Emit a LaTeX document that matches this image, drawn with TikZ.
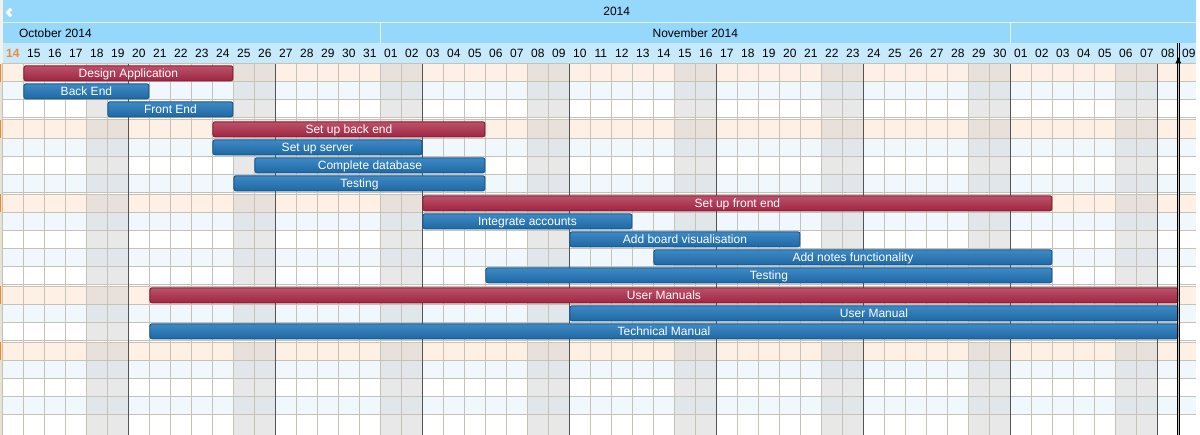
\documentclass[tikz,border=0pt]{standalone}
\usepackage{fontspec}
\setmainfont{Liberation Sans}
% header and grid colours
\definecolor{hdrTop}{RGB}{150,216,252}
\definecolor{hdrDay}{RGB}{198,234,252}
\definecolor{hdrRule}{RGB}{226,242,250}
\definecolor{hdrSide}{RGB}{242,242,236}
\definecolor{rowo}{RGB}{255,240,229}
\definecolor{rowb}{RGB}{240,248,254}
\definecolor{roww}{RGB}{255,255,255}
\definecolor{wkndo}{RGB}{232,224,218}
\definecolor{wkndb}{RGB}{224,230,233}
\definecolor{wkndw}{RGB}{232,232,232}
\definecolor{gridc}{RGB}{198,194,184}
\definecolor{weekc}{RGB}{84,84,84}
\definecolor{todayc}{RGB}{240,136,60}
\definecolor{edgec}{RGB}{230,226,214}
\definecolor{markc}{RGB}{242,136,30}
% task bar colours
\definecolor{redT}{RGB}{186,82,106}
\definecolor{redB}{RGB}{160,38,66}
\definecolor{redE}{RGB}{140,30,56}
\definecolor{bluT}{RGB}{62,138,196}
\definecolor{bluB}{RGB}{30,104,164}
\definecolor{bluE}{RGB}{24,90,146}

% one task bar: name, first day column, last day column, row top, kind (r/b), label
\newcommand\ganttbar[6]{%
  \pgfmathsetmacro\gx{2.33+21*#2+0.6}%
  \pgfmathsetmacro\gw{(21*(#3-#2+1)-1)*0.75}%
  \node[bar#5, minimum width=\gw pt, anchor=west] (#1) at (\gx,#4+9.3) {#6};%
}

\begin{document}
\begin{tikzpicture}[x=0.75pt,y=-0.75pt,line width=0.75pt,
  font=\fontsize{9}{10}\selectfont,
  lbl/.style={inner sep=0pt,outer sep=0pt,text height=6.44pt,text depth=0pt},
  barbase/.style={lbl,draw,rounded corners=1.6pt,minimum height=11.25pt,
    text=white,line width=0.75pt,text height=6.0pt},
  barr/.style={barbase,draw=redE,top color=redT,bottom color=redB},
  barb/.style={barbase,draw=bluE,top color=bluT,bottom color=bluB}]
\useasboundingbox (0,0) rectangle (1200,435);
\fill[white] (0,0) rectangle (1200,435);

% ---- header ----
\fill[hdrSide] (0,0) rectangle (3,64);
\fill[hdrTop] (3,0) rectangle (1196,43);
\draw[hdrRule] (3,22.5) -- (1196,22.5);
\fill[hdrDay] (3,43) rectangle (1196,64);
\draw[hdrRule] (380.33,23) -- (380.33,43) (1010.33,23) -- (1010.33,43);
\draw[white,line width=2.2pt,line join=miter] (11.2,8.8) -- (7.6,12.5) -- (11.2,16.2);
\node[lbl] (year) at (616.7,11.6) {2014};
\node[lbl,anchor=west] (octLbl) at (19,32.9) {October 2014};
\node[lbl] (novLbl) at (695.3,32.9) {November 2014};
\node[lbl,text=todayc,font=\fontsize{9}{10}\selectfont\bfseries] (d0) at (12.83,53.6) {14};
\foreach \lab [count=\i] in {15,16,17,18,19,20,21,22,23,24,25,26,27,28,29,30,31,
  01,02,03,04,05,06,07,08,09,10,11,12,13,14,15,16,17,18,19,20,21,22,23,24,25,26,27,28,29,30,
  01,02,03,04,05,06,07,08,09}
  {\node[lbl] (d\i) at (12.83+21*\i,53.6) {\lab};}

% ---- grid rows (top / kind / height) ----
\fill[edgec] (0,64) rectangle (2.33,435);
\foreach \y/\t/\h in {64/o/18,82/b/18,100/w/18,120/o/18,138/b/18,156/w/18,174/b/18,
  194/o/18,212/b/18,230/w/18,248/b/18,266/w/18,286/o/18,304/b/18,322/w/18,
  342/o/18,360/b/18,378/w/18,396/b/18,414/w/21}
{
  \fill[fill=row\t] (2.33,\y) rectangle (1196,\y+\h);
  \foreach \i in {4,5,11,12,18,19,25,26,32,33,39,40,46,47,53,54}
    \fill[fill=wknd\t] (2.33+21*\i,\y) rectangle (23.33+21*\i,\y+\h);
  \draw[gridc] (2.33,\y) -- (1196,\y);
  \ifnum\h=18 \draw[gridc] (2.33,\y+18) -- (1196,\y+18); \fi
}
\foreach \y in {64,120,194,286,342}
  \fill[markc] (0,\y) rectangle (1.3,\y+18);
\foreach \i in {0,...,56}
  \draw[gridc] (2.33+21*\i,64) -- (2.33+21*\i,435);
\foreach \i in {6,13,20,27,34,41,48,55}
  \draw[weekc] (2.33+21*\i,64) -- (2.33+21*\i,435);

% ---- task bars ----
\ganttbar{design}{1}{10}{64}{r}{Design Application}
\ganttbar{backEnd}{1}{6}{82}{b}{Back End}
\ganttbar{frontEnd}{5}{10}{100}{b}{Front End}
\ganttbar{setBack}{10}{22}{120}{r}{Set up back end}
\ganttbar{server}{10}{19}{138}{b}{Set up server}
\ganttbar{database}{12}{22}{156}{b}{Complete database}
\ganttbar{testBack}{11}{22}{174}{b}{Testing}
\ganttbar{setFront}{20}{49}{194}{r}{Set up front end}
\ganttbar{accounts}{20}{29}{212}{b}{Integrate accounts}
\ganttbar{board}{27}{37}{230}{b}{Add board visualisation}
\ganttbar{notes}{31}{49}{248}{b}{Add notes functionality}
\ganttbar{testFront}{23}{49}{266}{b}{Testing}
\ganttbar{manuals}{7}{55}{286}{r}{User Manuals}
\ganttbar{userMan}{27}{55}{304}{b}{User Manual}
\ganttbar{techMan}{7}{55}{322}{b}{Technical Manual}

% ---- current date marker ----
\coordinate (nowTop) at (1178.3,43);
\coordinate (nowBot) at (1178.3,435);
\draw[black] ([xshift=-0.75pt]nowTop) -- ([xshift=-0.75pt]nowBot);
\draw[black] ([xshift=0.75pt]nowTop) -- ([xshift=0.75pt]nowBot);
\fill[black] (1178.3,57.3) -- (1175.4,63.4) -- (1181.2,63.4) -- cycle;
\end{tikzpicture}
\end{document}
